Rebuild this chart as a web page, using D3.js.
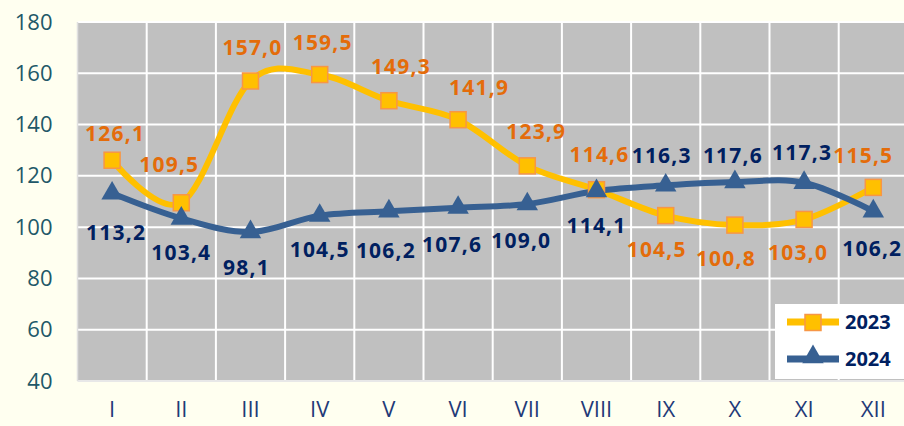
<!DOCTYPE html>
<html><head><meta charset="utf-8">
<script src="https://cdn.jsdelivr.net/npm/d3@7"></script>
<style>
html,body{margin:0;padding:0;background:#FFFFF0;}
svg{display:block;font-family:"Open Sans",sans-serif;}
</style></head>
<body><svg id="c" width="904" height="426"></svg>
<script>
const categories = ["I","II","III","IV","V","VI","VII","VIII","IX","X","XI","XII"];
const values2023 = [126.1,109.5,157.0,159.5,149.3,141.9,123.9,114.6,104.5,100.8,103.0,115.5];
const values2024 = [113.2,103.4,98.1,104.5,106.2,107.6,109.0,114.1,116.3,117.6,117.3,106.2];
const yTicks = [40,60,80,100,120,140,160,180];
const seriesNames = ["2023","2024"];

// label placement (layout only)
const lab2023 = [[3,-27],[-12,-38],[2,-34],[3,-32],[12,-34],[21,-32],[9,-34],[3,-35],[-9,34],[-9,33],[-6,33],[-10,-32]];
const lab2024 = [[4,39],[0,34],[-4,35],[0,34],[-3,39],[-6,37],[-6,36],[0,34],[-4,-30],[-2,-27],[-2,-30],[-1,37]];

const svg = d3.select("#c");
const L = 77.5, T = 22, B = 381, bw = 69.2;
const x = d3.scaleBand().domain(categories).range([L, L + bw*categories.length]).padding(0);
const y = d3.scaleLinear().domain([40,180]).range([B, T]);
const xc = c => x(c) + x.bandwidth()/2;

const defs = svg.append("defs");
defs.append("clipPath").attr("id","pc").append("rect").attr("x",L).attr("y",T-10).attr("width",904-L).attr("height",B-T+20);

// plot area
svg.append("rect").attr("x",L).attr("y",T).attr("width",904-L).attr("height",B-T).attr("fill","#C0C0C0");
const g = svg.append("g").attr("clip-path","url(#pc)");
// grid
g.selectAll(".hg").data(yTicks).join("line")
  .attr("x1",L).attr("x2",904).attr("y1",d=>y(d)).attr("y2",d=>y(d))
  .attr("stroke","#FFFFFF").attr("stroke-width",2);
g.selectAll(".vg").data(categories.slice(1)).join("line")
  .attr("x1",d=>x(d)).attr("x2",d=>x(d)).attr("y1",T).attr("y2",B)
  .attr("stroke","#FFFFFF").attr("stroke-width",2);
svg.append("line").attr("x1",L).attr("x2",L).attr("y1",T).attr("y2",B).attr("stroke","#E0E0E0").attr("stroke-width",1.5);
svg.append("line").attr("x1",L).attr("x2",904).attr("y1",B).attr("y2",B).attr("stroke","#E0E0E0").attr("stroke-width",1.5);

// y axis
const ya = svg.append("g").attr("transform",`translate(${L},0)`)
  .call(d3.axisLeft(y).tickValues(yTicks).tickSize(0).tickPadding(25));
ya.select(".domain").remove();
ya.selectAll("text").attr("font-family","'Open Sans',sans-serif").attr("font-size",22).attr("fill","#215868");

// x axis
const xa = svg.append("g").attr("transform",`translate(0,${B})`)
  .call(d3.axisBottom(x).tickSize(0).tickPadding(20));
xa.select(".domain").remove();
xa.selectAll("text").attr("font-family","'Open Sans',sans-serif").attr("font-size",22).attr("fill","#1F3A78");

const curve = d3.curveCardinal.tension(0);
const line = d3.line().x((d,i)=>xc(categories[i])).y(d=>y(d)).curve(curve);

const C23 = "#FFC000", C23s = "#F79646", C24 = "#376092";

g.append("path").attr("d",line(values2023)).attr("fill","none").attr("stroke",C23).attr("stroke-width",6);
g.append("path").attr("d",line(values2024)).attr("fill","none").attr("stroke",C24).attr("stroke-width",6);

const sq = 16;
g.selectAll(".m23").data(values2023).join("rect")
  .attr("x",(d,i)=>xc(categories[i])-sq/2).attr("y",d=>y(d)-sq/2)
  .attr("width",sq).attr("height",sq).attr("fill",C23).attr("stroke",C23s).attr("stroke-width",1.5);
const tri = d3.symbol().type(d3.symbolTriangle).size(200);
g.selectAll(".m24").data(values2024).join("path")
  .attr("d",tri).attr("transform",(d,i)=>`translate(${xc(categories[i])},${y(d)})`)
  .attr("fill",C24);

// labels
function labels(vals, offs, color){
  svg.append("g").selectAll("text").data(vals).join("text")
    .attr("x",(d,i)=>xc(categories[i])+offs[i][0])
    .attr("y",(d,i)=>y(d)+offs[i][1])
    .attr("dy","0.36em").attr("text-anchor","middle")
    .attr("font-family","'Open Sans',sans-serif").attr("font-weight","bold").attr("font-size",21)
    .attr("letter-spacing",1.2)
    .attr("fill",color)
    .text(d=>d3.format(".1f")(d).replace(".",","));
}
labels(values2023, lab2023, "#E46C0A");
labels(values2024, lab2024, "#002060");

// legend
const lg = svg.append("g");
lg.append("rect").attr("x",775).attr("y",304).attr("width",130).attr("height",75).attr("fill","#FFFFFF");
const ly = [322,359];
lg.append("line").attr("x1",787).attr("x2",839).attr("y1",ly[0]).attr("y2",ly[0]).attr("stroke",C23).attr("stroke-width",7);
lg.append("rect").attr("x",813-sq/2).attr("y",ly[0]-sq/2+0.5).attr("width",sq).attr("height",sq).attr("fill",C23).attr("stroke",C23s).attr("stroke-width",1.5);
lg.append("line").attr("x1",787).attr("x2",839).attr("y1",ly[1]).attr("y2",ly[1]).attr("stroke",C24).attr("stroke-width",7);
lg.append("path").attr("d",tri).attr("transform",`translate(813,${ly[1]-2})`).attr("fill",C24);
lg.selectAll(".lt").data(seriesNames).join("text")
  .attr("x",845).attr("y",(d,i)=>ly[i]).attr("dy","0.36em")
  .attr("font-family","'Open Sans',sans-serif").attr("font-weight","bold").attr("font-size",20)
  .attr("fill","#002060").text(d=>d);
</script></body></html>
